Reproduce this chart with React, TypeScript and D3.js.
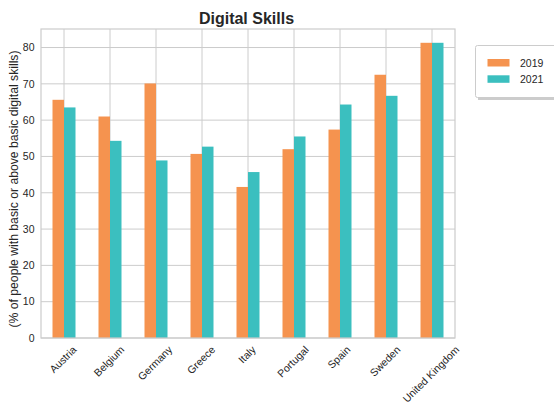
import React from "react";
import * as d3 from "d3";

const categories = ["Austria", "Belgium", "Germany", "Greece", "Italy", "Portugal", "Spain", "Sweden", "United Kingdom"];
const series2019 = [65.6, 61.0, 70.1, 50.7, 41.6, 52.0, 57.4, 72.5, 81.3];
const series2021 = [63.5, 54.3, 48.9, 52.7, 45.7, 55.5, 64.3, 66.7, 81.3];
const seriesNames = ["2019", "2021"];
const yTicks = [0, 10, 20, 30, 40, 50, 60, 70, 80];

const W = 554, H = 406;
const left = 41, right = 455, top = 29, bottom = 338;
const FONT = "'Liberation Sans', Arial, sans-serif";
const colors = ["#f5934f", "#3bbfbf"];
const textColor = "#262626";
const gridColor = "#cccccc";

function measure(text: string, size: number): number {
  if (typeof document === "undefined") return text.length * size * 0.5;
  const c = document.createElement("canvas");
  const ctx = c.getContext("2d");
  if (!ctx) return text.length * size * 0.5;
  ctx.font = `${size}px 'Liberation Sans', Arial, sans-serif`;
  return ctx.measureText(text).width;
}

export default function App() {
  const x = d3.scaleBand<string>().domain(categories).range([left, right]).padding(0);
  const y = d3.scaleLinear().domain([0, 85.1]).range([bottom, top]);
  const bw = x.bandwidth() * 0.25;
  const center = (c: string) => (x(c) as number) + x.bandwidth() / 2;
  const data = [series2019, series2021];
  const fs = 10.5;

  return (
    <svg width={W} height={H} style={{ position: "absolute", left: 0, top: 0, background: "#fff" }}>
      {/* grid */}
      {yTicks.map((t) => (
        <line key={"gy" + t} x1={left} x2={right} y1={y(t)} y2={y(t)} stroke={gridColor} strokeWidth={1} />
      ))}
      {categories.map((c) => (
        <line key={"gx" + c} x1={center(c)} x2={center(c)} y1={top} y2={bottom} stroke={gridColor} strokeWidth={1} />
      ))}
      {/* bars */}
      {data.map((s, si) =>
        s.map((v, i) => {
          const c = categories[i];
          const x0 = center(c) + (si === 0 ? -bw : 0);
          return (
            <rect key={si + "-" + i} x={x0} y={y(v)} width={bw} height={y(0) - y(v)} fill={colors[si]} />
          );
        })
      )}
      {/* frame */}
      <rect x={left} y={top} width={right - left} height={bottom - top} fill="none" stroke={gridColor} strokeWidth={1.2} />
      {/* y tick labels */}
      {yTicks.map((t) => (
        <text key={"yt" + t} x={34.5} y={y(t)} dy="0.36em" textAnchor="end" fontFamily={FONT} fontSize={fs} fill={textColor}>
          {t}
        </text>
      ))}
      {/* x tick labels */}
      {categories.map((c) => {
        const w = measure(c, fs);
        const h = fs * 1.15;
        const bh = (w + h) * Math.SQRT1_2;
        const cy = 343.5 + bh / 2;
        const cx = center(c) - 1;
        return (
          <text
            key={"xt" + c}
            x={0}
            y={0}
            dy="0.35em"
            textAnchor="middle"
            fontFamily={FONT}
            fontSize={fs}
            fill={textColor}
            transform={`translate(${cx},${cy}) rotate(-45)`}
          >
            {c}
          </text>
        );
      })}
      {/* y label */}
      <text
        transform={`translate(14,189) rotate(-90)`}
        dy="0.35em"
        textAnchor="middle"
        fontFamily={FONT}
        fontSize={12.2}
        fill={textColor}
      >
        (% of people with basic or above basic digital skills)
      </text>
      {/* title */}
      <text x={246.5} y={23.5} textAnchor="middle" fontFamily={FONT} fontSize={16} fontWeight="bold" fill={textColor}>
        Digital Skills
      </text>
      {/* legend */}
      <rect x={478} y={48} width={90} height={52} fill="#999" opacity={0.5} />
      <rect x={475.5} y={45.5} width={90} height={52} rx={2} fill="#fff" stroke={gridColor} strokeWidth={1} />
      {seriesNames.map((n, i) => (
        <g key={"lg" + n}>
          <rect x={487.5} y={59 + i * 16.3} width={22} height={7.5} fill={colors[i]} />
          <text x={520} y={63.5 + i * 16.3} dy="0.35em" fontFamily={FONT} fontSize={fs} fill={textColor}>
            {n}
          </text>
        </g>
      ))}
    </svg>
  );
}
